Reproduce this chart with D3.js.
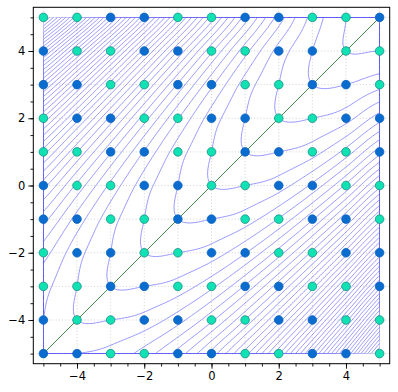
<!DOCTYPE html>
<html><head><meta charset="utf-8">
<script src="https://cdn.jsdelivr.net/npm/d3@7"></script>
<style>body{margin:0;background:#fff}svg{display:block}</style>
</head><body>
<script>
// grid coordinates
const gridX = [-5,-4,-3,-2,-1,0,1,2,3,4,5];
const gridY = [5,4,3,2,1,0,-1,-2,-3,-4,-5]; // rows, top to bottom
// estimated field values at the grid points (rows y=5 .. y=-5, columns x=-5 .. 5)
const fieldRows = [
  [-45.5,-37.28,-29.46,-22.16,-15.5,-9.6,-4.58,-0.56,2.34,4,5],
  [-35.72,-28.5,-21.72,-15.5,-9.96,-5.22,-1.4,1.38,3,4,4],
  [-27.54,-21.28,-15.5,-10.32,-5.86,-2.24,0.42,2,3,3,2.34],
  [-20.84,-15.5,-10.68,-6.5,-3.08,-0.54,1,2,2,1.38,-0.56],
  [-15.5,-11.04,-7.14,-3.92,-1.5,0,1,1,0.42,-1.4,-4.58],
  [-11.4,-7.78,-4.76,-2.46,-1,0,0,-0.54,-2.24,-5.22,-9.6],
  [-8.42,-5.6,-3.42,-2,-1,-1,-1.5,-3.08,-5.86,-9.96,-15.5],
  [-6.44,-4.38,-3,-2,-2,-2.46,-3.92,-6.5,-10.32,-15.5,-22.16],
  [-5.34,-4,-3,-3,-3.42,-4.76,-7.14,-10.68,-15.5,-21.72,-29.46],
  [-5,-4,-4,-4.38,-5.6,-7.78,-11.04,-15.5,-21.28,-28.5,-37.28],
  [-5,-5,-5.34,-6.44,-8.42,-11.4,-15.5,-20.84,-27.54,-35.72,-45.5]
];
// point classes (rows y=5 .. y=-5), C = cyan, B = blue
const classRows = [
  "CCBBCCBBCCB",
  "BCCBBCCBBCC",
  "BBCCBBCCBBC",
  "CBBCCBBCCBB",
  "CCBBCCBBCCB",
  "BCCBBCCBBCC",
  "BBCCBBCCBBC",
  "CBBCCBBCCBB",
  "CCBBCCBBCCB",
  "BCCBBCCBBCC",
  "BBCCBBCCBBC"
];
const contourLevels = d3.range(-46, 6, 1);
const diagonal = [[-5,-5],[5,5]];
const majorTicks = [-4,-2,0,2,4];
const minorTicks = d3.range(-5, 5.01, 0.5);
const gridLines = [-5,-4,-3,-2,-1,0,1,2,3,4,5];

const W = 398, H = 392;
const xs = d3.scaleLinear([-5.3, 5.3], [33.3, 389.7]);
const ys = d3.scaleLinear([-5.3, 5.3], [363.7, 7.3]);

const svg = d3.select("body").append("svg").attr("width", W).attr("height", H);

// gridlines
const gg = svg.append("g").attr("stroke", "#c4c4c4").attr("stroke-width", 0.8).attr("stroke-dasharray", "1,2.2");
gridLines.forEach(v => {
  gg.append("line").attr("x1", xs(v)).attr("x2", xs(v)).attr("y1", ys(-5.3)).attr("y2", ys(5.3));
  gg.append("line").attr("y1", ys(v)).attr("y2", ys(v)).attr("x1", xs(-5.3)).attr("x2", xs(5.3));
});

// bicubic (Catmull-Rom) interpolation of the grid field
function G(i, j) {
  if (i < 0) return 2 * G(0, j) - G(1, j);
  if (i > 10) return 2 * G(10, j) - G(9, j);
  if (j < 0) return 2 * G(i, 0) - G(i, 1);
  if (j > 10) return 2 * G(i, 10) - G(i, 9);
  return fieldRows[j][i];
}
function cr(p0, p1, p2, p3, t) {
  return 0.5 * (2 * p1 + (-p0 + p2) * t + (2 * p0 - 5 * p1 + 4 * p2 - p3) * t * t + (-p0 + 3 * p1 - 3 * p2 + p3) * t * t * t);
}
function field(x, y) {
  const fx = x - gridX[0], fy = gridY[0] - y;
  let i = Math.min(9, Math.floor(fx)), j = Math.min(9, Math.floor(fy));
  const tx = fx - i, ty = fy - j;
  const rows = [];
  for (let dj = -1; dj <= 2; dj++) {
    rows.push(cr(G(i - 1, j + dj), G(i, j + dj), G(i + 1, j + dj), G(i + 2, j + dj), tx));
  }
  return cr(rows[0], rows[1], rows[2], rows[3], ty);
}

const N = 241, step = 10 / (N - 1);
const values = new Float64Array(N * N);
for (let r = 0; r < N; r++) {
  for (let c = 0; c < N; c++) {
    values[r * N + c] = field(-5 + c * step, -5 + r * step);
  }
}
const contours = d3.contours().size([N, N]).thresholds(contourLevels)(values);
const proj = d3.geoTransform({
  point(px, py) { this.stream.point(xs(-5 + (px - 0.5) * step), ys(-5 + (py - 0.5) * step)); }
});
const path = d3.geoPath(proj);

svg.append("clipPath").attr("id", "dom").append("rect")
  .attr("x", xs(-5)).attr("y", ys(5)).attr("width", xs(5) - xs(-5)).attr("height", ys(-5) - ys(5));

svg.append("g").attr("clip-path", "url(#dom)")
  .selectAll("path").data(contours).join("path")
  .attr("d", path).attr("fill", "none")
  .attr("stroke", "#6a6aff").attr("stroke-width", 0.7);

// diagonal
svg.append("path").attr("d", d3.line().x(d => xs(d[0])).y(d => ys(d[1]))(diagonal))
  .attr("stroke", "#2e7d32").attr("stroke-width", 0.9).attr("fill", "none");

// points
const pts = [];
classRows.forEach((row, j) => row.split("").forEach((c, i) => pts.push({x: gridX[i], y: gridY[j], c})));
svg.append("g").selectAll("circle").data(pts).join("circle")
  .attr("cx", d => xs(d.x)).attr("cy", d => ys(d.y)).attr("r", 4.3)
  .attr("fill", d => d.c === "C" ? "#10e2b4" : "#0a6ccf")
  .attr("stroke", d => d.c === "C" ? "#1b8f86" : "#0a62bd").attr("stroke-width", 0.8);

// frame
svg.append("rect").attr("x", xs(-5.3)).attr("y", ys(5.3)).attr("width", xs(5.3) - xs(-5.3)).attr("height", ys(-5.3) - ys(5.3))
  .attr("fill", "none").attr("stroke", "#000").attr("stroke-width", 1);

// axes ticks
const fmt = d => String(d).replace("-", "\u2212");
const xAxis = d3.axisBottom(xs).tickValues(majorTicks).tickSize(5).tickPadding(3).tickFormat(fmt);
const yAxis = d3.axisLeft(ys).tickValues(majorTicks).tickSize(5).tickPadding(3).tickFormat(fmt);
const gx = svg.append("g").attr("transform", `translate(0,${ys(-5.3)})`).call(xAxis);
const gy = svg.append("g").attr("transform", `translate(${xs(-5.3)},0)`).call(yAxis);
const gxm = svg.append("g").attr("transform", `translate(0,${ys(-5.3)})`).call(d3.axisBottom(xs).tickValues(minorTicks).tickSize(2.8).tickFormat(""));
const gym = svg.append("g").attr("transform", `translate(${xs(-5.3)},0)`).call(d3.axisLeft(ys).tickValues(minorTicks).tickSize(2.8).tickFormat(""));
[gx, gy, gxm, gym].forEach(g => { g.select(".domain").remove(); g.selectAll("line").attr("stroke", "#000").attr("stroke-width", 0.9); });
[gx, gy].forEach(g => g.selectAll("text").attr("font-family", "DejaVu Sans").attr("font-size", 11.5).attr("fill", "#000"));
</script>
</body></html>
